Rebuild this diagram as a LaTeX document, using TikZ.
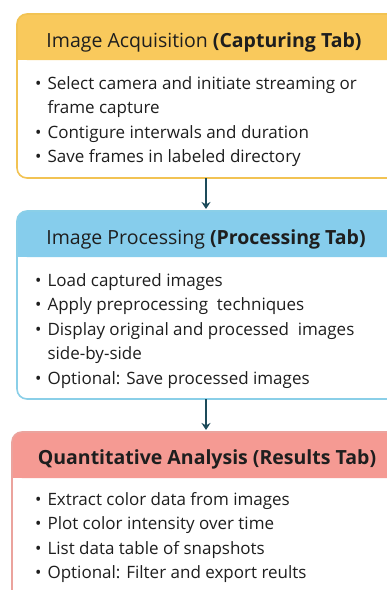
\documentclass[tikz,border=0pt]{standalone}
\usepackage{fontspec}
\setmainfont{Open Sans}
\usepackage{tikz}
\usetikzlibrary{positioning,arrows.meta}

\definecolor{acqfill}{HTML}{F9C95C}
\definecolor{acqline}{HTML}{F2C353}
\definecolor{procfill}{HTML}{86CDEC}
\definecolor{procline}{HTML}{8ACFE8}
\definecolor{resfill}{HTML}{F59A93}
\definecolor{resline}{HTML}{EBA39D}
\definecolor{arrowcol}{HTML}{1D4B5A}
\definecolor{textcol}{HTML}{1E1E1E}

\tikzset{
  stagebox/.style={draw=#1, line width=1.6pt, rounded corners=10pt},
  titletext/.style={anchor=base, text=textcol, font=\fontsize{19.5}{22}\selectfont, inner sep=0pt},
  bodytext/.style={anchor=north west, text=textcol, align=left, inner sep=0pt,
    font=\fontsize{17}{24.5}\selectfont},
  flowarrow/.style={draw=arrowcol, line width=1.6pt, -{Stealth[length=7pt,width=9pt]}}
}

\newcommand{\bul}{\textbullet\hspace{0.35em}}
\newcommand{\cont}{\hphantom{\textbullet}\hspace{0.35em}}

\begin{document}
\begin{tikzpicture}[x=1pt,y=-1pt]

\useasboundingbox (0,0) rectangle (387,590);
\fill [white] (0,0) rectangle (387,590);

% capturing
\fill [acqfill, rounded corners=10pt] (17,14) rectangle (398,60);
\fill [acqfill] (17,40) rectangle (398,60);
\draw [stagebox=acqline] (17,14) rectangle (398,178);
\coordinate (acqbot) at (206,178);
\node [titletext] (acqtitle) at (204,47) {Image Acquisition \textbf{(Capturing Tab)}};
\node [bodytext] (acqbody) at (35,76) {\bul Select camera and initiate streaming or\\
  \cont frame capture\\
  \bul Contigure interwals and duration\\
  \bul Save frames in labeled directory};

% processing
\fill [procfill, rounded corners=10pt] (17,211) rectangle (398,257);
\fill [procfill] (17,237) rectangle (398,257);
\draw [stagebox=procline] (17,211) rectangle (398,399);
\coordinate (proctop) at (206,209);
\coordinate (procbot) at (206,399);
\node [titletext] (proctitle) at (206,244) {Image Processing \textbf{(Processing Tab)}};
\node [bodytext] (procbody) at (35,273) {\bul Load captured images\\
  \bul Apply preprocessing\ \ techniques\\
  \bul Display original and processed\ \ images\\
  \cont side-by-side\\
  \bul Optional: Save processed images};

% results
\fill [resfill, rounded corners=10pt] (12,432) rectangle (398,478);
\fill [resfill] (12,458) rectangle (398,478);
\draw [stagebox=resline] (12,432) rectangle (398,604);
\coordinate (restop) at (206,430);
\node [titletext] (restitle) at (207,464) {\textbf{Quantitative Analysis (Results Tab)}};
\node [bodytext] (resbody) at (35,492) {\bul Extract color data from images\\
  \bul Plot color intensity over time\\
  \bul List data table of snapshots\\
  \bul Optional: Filter and export reults};

\draw [flowarrow] (acqbot) -- (proctop);
\draw [flowarrow] (procbot) -- (restop);

\end{tikzpicture}
\end{document}
